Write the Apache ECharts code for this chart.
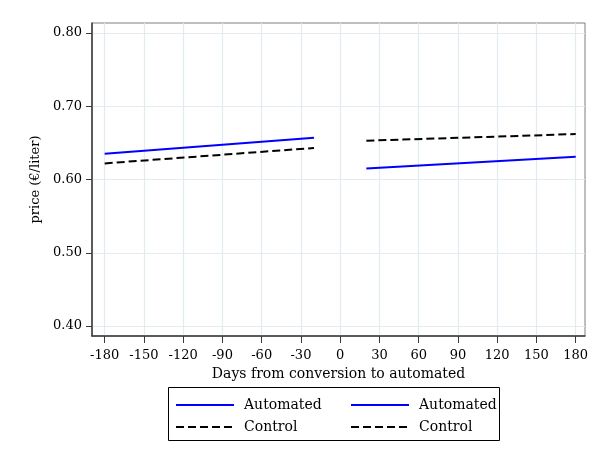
<!DOCTYPE html>
<html>
<head>
<meta charset="utf-8">
<script src="https://cdn.jsdelivr.net/npm/echarts@6/dist/echarts.min.js"></script>
<style>html,body{margin:0;padding:0;background:#fff}#c{width:599px;height:457px}</style>
</head>
<body>
<div id="c"></div>
<script>
const preDays = [-180, -20];
const postDays = [20, 180];
const automatedPre = [0.635, 0.657];
const controlPre = [0.622, 0.643];
const automatedPost = [0.615, 0.631];
const controlPost = [0.653, 0.662];
const xTicks = [-180, -150, -120, -90, -60, -30, 0, 30, 60, 90, 120, 150, 180];
const yTicks = [0.40, 0.50, 0.60, 0.70, 0.80];
const seriesNames = ['Automated', 'Control'];

const font = 'DejaVu Serif';
const pair = (xs, ys) => xs.map((x, i) => [x, ys[i]]);
const blue = { color: '#0000ff', width: 2, type: 'solid' };
const dash = { color: '#000000', width: 2, type: [8, 4] };

const chart = echarts.init(document.getElementById('c'), null, { renderer: 'canvas' });
chart.setOption({
  animation: false,
  backgroundColor: '#ffffff',
  grid: { left: 92, right: 14, top: 23, bottom: 121, show: true, borderColor: '#7f7f7f', borderWidth: 1, backgroundColor: 'transparent' },
  xAxis: {
    type: 'value', min: -189.7, max: 187.1,
    name: 'Days from conversion to automated', nameLocation: 'middle', nameGap: 27,
    nameTextStyle: { fontFamily: font, fontSize: 14, color: '#000' },
    axisLine: { show: true, onZero: false, lineStyle: { color: '#3a3a3a', width: 1.5 } },
    axisTick: { show: true, length: 7, customValues: xTicks, lineStyle: { color: '#3a3a3a' } },
    axisLabel: { customValues: xTicks, margin: 13, fontFamily: font, fontSize: 13, color: '#000' },
    splitLine: { show: true, lineStyle: { color: '#e2ecee', width: 1.2 } }
  },
  yAxis: {
    type: 'value', min: 0.3864, max: 0.8136,
    name: 'price (€/liter)', nameLocation: 'middle', nameGap: 49, nameRotate: 90,
    nameTextStyle: { fontFamily: font, fontSize: 13, color: '#000' },
    axisLine: { show: true, onZero: false, lineStyle: { color: '#3a3a3a', width: 1.5 } },
    axisTick: { show: true, length: 6, customValues: yTicks, lineStyle: { color: '#3a3a3a' } },
    axisLabel: { customValues: yTicks, margin: 10, fontFamily: font, fontSize: 13, color: '#000', formatter: v => v.toFixed(2) },
    splitLine: { show: true, lineStyle: { color: '#e2ecee', width: 1.2 } }
  },
  legend: [0, 1].map(i => ({
    data: seriesNames, orient: 'vertical', left: i === 0 ? 170 : 345, top: 393,
    itemWidth: 58, itemHeight: 14, itemGap: 8,
    itemStyle: { opacity: 0 },
    textStyle: { fontFamily: font, fontSize: 14, color: '#000', padding: [0, 0, 0, 5] },
    selectedMode: false
  })),
  graphic: [{
    type: 'rect', left: 166, top: 385, shape: { width: 331, height: 53 },
    style: { fill: 'none', stroke: '#000', lineWidth: 1 }, silent: true
  }],
  series: [
    { name: 'Automated', type: 'line', data: pair(preDays, automatedPre), showSymbol: false, symbol: 'none', lineStyle: blue, itemStyle: { color: '#0000ff' } },
    { name: 'Control', type: 'line', data: pair(preDays, controlPre), showSymbol: false, symbol: 'none', lineStyle: dash, itemStyle: { color: '#000' } },
    { name: 'Automated', type: 'line', data: pair(postDays, automatedPost), showSymbol: false, symbol: 'none', lineStyle: blue, itemStyle: { color: '#0000ff' } },
    { name: 'Control', type: 'line', data: pair(postDays, controlPost), showSymbol: false, symbol: 'none', lineStyle: dash, itemStyle: { color: '#000' } }
  ]
});
</script>
</body>
</html>
